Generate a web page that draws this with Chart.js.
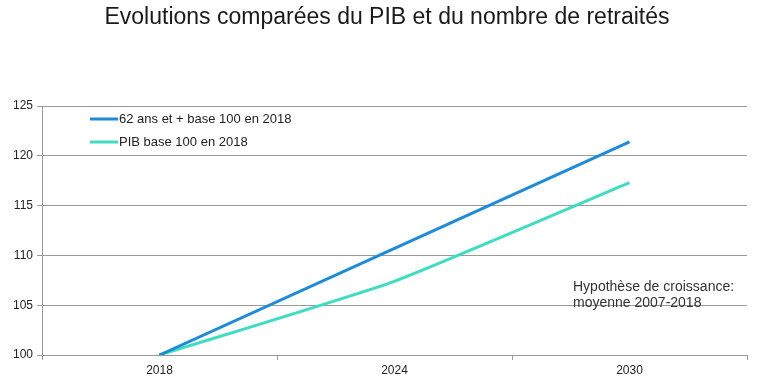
<!DOCTYPE html>
<html>
<head>
<meta charset="utf-8">
<script src="https://cdn.jsdelivr.net/npm/chart.js@4/dist/chart.umd.min.js"></script>
<style>
html,body{margin:0;padding:0;background:#fff;}
#wrap{width:768px;height:382px;position:relative;}
</style>
</head>
<body>
<div id="wrap"><canvas id="c" width="768" height="382"></canvas></div>
<script>
const categories = ["2018", "2024", "2030"];
const retraites = [100, 110.7, 121.4];
const pib = [100, 107.4, 117.3];
const yTicks = [100, 105, 110, 115, 120, 125];
const seriesLabels = ["62 ans et + base 100 en 2018", "PIB base 100 en 2018"];
const titleText = "Evolutions comparées du PIB et du nombre de retraités";
const noteLines = ["Hypothèse de croissance:", "moyenne 2007-2018"];

const FONT = "'Liberation Sans', Arial, sans-serif";

const overlay = {
  id: 'overlay',
  afterDraw(chart) {
    const ctx = chart.ctx;
    const area = chart.chartArea;
    ctx.save();
    // title
    ctx.fillStyle = '#1a1a1a';
    ctx.font = '23px ' + FONT;
    ctx.textAlign = 'center';
    ctx.textBaseline = 'middle';
    ctx.fillText(titleText, 387, 18);
    // legend
    chart.data.datasets.forEach((ds, i) => {
      const y = area.top + 13 + i * 23;
      ctx.strokeStyle = ds.borderColor;
      ctx.lineWidth = 3;
      ctx.beginPath();
      ctx.moveTo(area.left + 48, y);
      ctx.lineTo(area.left + 76, y);
      ctx.stroke();
      ctx.fillStyle = '#222';
      ctx.font = '13px ' + FONT;
      ctx.textBaseline = 'middle';
      ctx.textAlign = 'left';
      ctx.fillText(ds.label, area.left + 77, y);
    });
    // note
    ctx.fillStyle = '#333';
    ctx.font = '14px ' + FONT;
    ctx.textBaseline = 'middle';
    ctx.textAlign = 'left';
    const ys = chart.scales.y;
    ctx.fillText(noteLines[0], 573, ys.getPixelForValue(106.83));
    ctx.fillText(noteLines[1], 573, ys.getPixelForValue(105.22));
    ctx.restore();
  }
};

new Chart(document.getElementById('c'), {
  type: 'line',
  data: {
    labels: categories,
    datasets: [
      { label: seriesLabels[0], data: retraites, borderColor: '#1e8bd9', borderWidth: 3, pointRadius: 0, tension: 0, fill: false },
      { label: seriesLabels[1], data: pib, borderColor: '#3fdcc2', borderWidth: 3, pointRadius: 0, tension: 0.15, fill: false }
    ]
  },
  options: {
    responsive: false,
    animation: false,
    layout: { padding: { left: 0, right: 21, top: 106, bottom: 0 } },
    plugins: {
      legend: { display: false },
      tooltip: { enabled: false },
      title: { display: false }
    },
    scales: {
      x: {
        offset: true,
        grid: { display: true, drawOnChartArea: false, offset: true, color: '#999', tickLength: 5 },
        border: { display: true, color: '#999' },
        ticks: { color: '#222', font: { family: FONT, size: 12 }, padding: 3 },
        afterFit(s) { s.height = 27; }
      },
      y: {
        min: 100, max: 125,
        afterBuildTicks(s) { s.ticks = yTicks.map(v => ({ value: v })); },
        grid: { color: '#9a9a9a', tickLength: 5 },
        border: { display: true, color: '#999' },
        ticks: { color: '#222', font: { family: FONT, size: 12 }, padding: 4 },
        afterFit(s) { s.width = 42; }
      }
    }
  },
  plugins: [overlay]
});
</script>
</body>
</html>
